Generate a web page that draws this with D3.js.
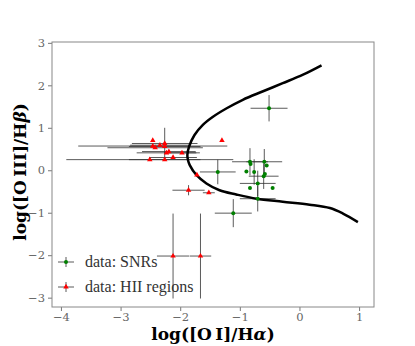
<!DOCTYPE html>
<html>
<head>
<meta charset="utf-8">
<script src="https://cdn.jsdelivr.net/npm/d3@7"></script>
<style>
  body { margin: 0; background: #fff; }
  svg text { font-family: "Liberation Serif", "DejaVu Serif", serif; }
</style>
</head>
<body>
<div id="chart"></div>
<script>
// SNRs: x, y, xerr, yerr
var snr_x    = [-0.83, -0.82, -0.59, -0.55, -1.37, -0.89, -0.76, -0.58, -0.60, -0.70, -0.83, -0.45, -0.70, -1.11, -0.51];
var snr_y    = [ 0.20,  0.15,  0.20,  0.11, -0.04, -0.03, -0.04, -0.09, -0.14, -0.31, -0.42, -0.42, -0.67, -1.01,  1.46];
var snr_xerr = [ 0.30,  0,     0.30,  0,     0.30,  0,     0,     0,     0.25,  0.30,  0,     0,     0.30,  0.31,  0.31];
var snr_yerr = [ 0.32,  0,     0.30,  0,     0.29,  0,     0.30,  0,     0.30,  0.30,  0,     0,     0.30,  0.33,  0.31];

// HII regions
var hii_x    = [-2.46, -2.46, -2.42, -2.34, -2.26, -2.26, -2.23, -2.19, -1.97, -2.12, -2.51, -2.26, -1.30, -1.72, -1.86, -1.52, -2.12, -1.66];
var hii_y    = [ 0.70,  0.57,  0.53,  0.59,  0.63,  0.56,  0.41,  0.44,  0.41,  0.30,  0.25,  0.25,  0.70, -0.11, -0.47, -0.53, -2.02, -2.02];
var hii_xerr = [ 0,     1.25,  0.80,  0.50,  0.55,  0.60,  0.50,  0.45,  0.30,  0.40,  1.40,  0.60,  0,     0,     0.27,  0.10,  0.27,  0.18];
var hii_yerr = [ 0,     0,     0,     0,     0.37,  0,     0,     0,     0,     0,     0,     0,     0,     0,     0.12,  0,     1.00,  1.00];

// dividing curve
var curve_x = [0.37, 0.06, -0.28, -0.61, -0.95, -1.22, -1.45, -1.62, -1.76, -1.85, -1.88, -1.87, -1.84, -1.73, -1.56, -1.34, -1.06, -0.72, -0.28, 0.17, 0.51, 0.73, 0.98];
var curve_y = [2.47, 2.25, 2.05, 1.86, 1.66, 1.46, 1.26, 1.07, 0.83, 0.56, 0.36, 0.24, 0.12, -0.11, -0.31, -0.47, -0.57, -0.67, -0.74, -0.81, -0.89, -1.02, -1.22];

var x_ticks = [-4, -3, -2, -1, 0, 1];
var y_ticks = [-3, -2, -1, 0, 1, 2, 3];

var chart_width = 415;
var chart_height = 346;
var pad_left = 52, pad_right = 374, pad_top = 42, pad_bottom = 307;

var svg = d3.select('#chart')
    .append('svg')
    .attr('width', chart_width)
    .attr('height', chart_height);

// Scales
var x_scale = d3.scaleLinear()
    .domain([-4.15, 1.25])
    .range([pad_left, pad_right]);
var y_scale = d3.scaleLinear()
    .domain([-3.22, 3.02])
    .range([pad_bottom, pad_top]);

var minus = function(d){ return d < 0 ? '\u2212' + Math.abs(d) : '' + d; };

// Axes
var x_axis = d3.axisBottom(x_scale)
    .tickValues(x_ticks)
    .tickSize(4)
    .tickPadding(2)
    .tickSizeOuter(0)
    .tickFormat(minus);
var y_axis = d3.axisLeft(y_scale)
    .tickValues(y_ticks)
    .tickSize(4)
    .tickPadding(3)
    .tickSizeOuter(0)
    .tickFormat(minus);

var gx = svg.append('g')
    .attr('transform', 'translate(0,' + pad_bottom + ')')
    .call(x_axis);
var gy = svg.append('g')
    .attr('transform', 'translate(' + pad_left + ',0)')
    .call(y_axis);
[gx, gy].forEach(function(g){
    g.select('.domain').remove();
    g.selectAll('line').attr('stroke', '#777');
    g.selectAll('text')
        .attr('fill', '#666')
        .style('font-size', '11.5px')
        .style('font-family', '"DejaVu Serif", serif');
});

// frame
svg.append('rect')
    .attr('x', pad_left)
    .attr('y', pad_top)
    .attr('width', pad_right - pad_left)
    .attr('height', pad_bottom - pad_top)
    .attr('fill', 'none')
    .attr('stroke', '#888')
    .attr('stroke-width', 1);

var plot = svg.append('g');

function errorBars(xs, ys, xe, ye) {
    xs.forEach(function(x, i){
        if (xe[i] > 0) {
            plot.append('line')
                .attr('x1', x_scale(x - xe[i])).attr('x2', x_scale(x + xe[i]))
                .attr('y1', y_scale(ys[i])).attr('y2', y_scale(ys[i]))
                .attr('stroke', '#333').attr('stroke-width', 1).attr('opacity', 0.8);
        }
        if (ye[i] > 0) {
            plot.append('line')
                .attr('x1', x_scale(x)).attr('x2', x_scale(x))
                .attr('y1', y_scale(ys[i] - ye[i])).attr('y2', y_scale(ys[i] + ye[i]))
                .attr('stroke', '#333').attr('stroke-width', 1).attr('opacity', 0.8);
        }
    });
}
errorBars(snr_x, snr_y, snr_xerr, snr_yerr);
errorBars(hii_x, hii_y, hii_xerr, hii_yerr);

// curve
var line = d3.line()
    .x(function(d){ return x_scale(d[0]); })
    .y(function(d){ return y_scale(d[1]); })
    .curve(d3.curveCatmullRom);
plot.append('path')
    .datum(d3.zip(curve_x, curve_y))
    .attr('fill', 'none')
    .attr('stroke', '#000')
    .attr('stroke-width', 2.5)
    .attr('d', line);

// markers
var tri = d3.symbol().type(d3.symbolTriangle).size(13);
plot.selectAll('.hii')
    .data(d3.zip(hii_x, hii_y))
    .enter().append('path')
    .attr('transform', function(d){ return 'translate(' + x_scale(d[0]) + ',' + y_scale(d[1]) + ')'; })
    .attr('d', tri)
    .attr('fill', '#ff0000');
plot.selectAll('.snr')
    .data(d3.zip(snr_x, snr_y))
    .enter().append('circle')
    .attr('cx', function(d){ return x_scale(d[0]); })
    .attr('cy', function(d){ return y_scale(d[1]); })
    .attr('r', 2)
    .attr('fill', '#008000');

// legend
var legend = svg.append('g').attr('transform', 'translate(58,262)');
[['data: SNRs', 'snr'], ['data: HII regions', 'hii']].forEach(function(e, i){
    var g = legend.append('g').attr('transform', 'translate(0,' + (i * 25) + ')');
    g.append('line').attr('x1', 0).attr('x2', 16).attr('y1', 0).attr('y2', 0)
        .attr('stroke', '#333').attr('opacity', 0.8);
    g.append('line').attr('x1', 8).attr('x2', 8).attr('y1', -5).attr('y2', 5)
        .attr('stroke', '#333').attr('opacity', 0.8);
    if (e[1] == 'snr') {
        g.append('circle').attr('cx', 8).attr('cy', 0).attr('r', 2).attr('fill', '#008000');
    } else {
        g.append('path').attr('transform', 'translate(8,0)').attr('d', tri).attr('fill', '#ff0000');
    }
    g.append('text')
        .attr('x', 27)
        .attr('y', 5)
        .style('font-size', '16px')
        .attr('fill', '#333')
        .text(e[0]);
});

// axis labels
svg.append('text')
    .attr('x', 213)
    .attr('y', 340)
    .attr('text-anchor', 'middle')
    .style('font-size', '17px')
    .style('font-weight', 'bold')
    .style('font-family', '"DejaVu Serif", serif')
    .html('log([O\u2009I]/H<tspan font-style="italic">\u03b1</tspan>)');
svg.append('text')
    .attr('transform', 'translate(26,172) rotate(-90)')
    .attr('text-anchor', 'middle')
    .style('font-size', '17px')
    .style('font-weight', 'bold')
    .style('font-family', '"DejaVu Serif", serif')
    .html('log([O\u2009III]/H<tspan font-style="italic">\u03b2</tspan>)');
</script>
</body>
</html>
